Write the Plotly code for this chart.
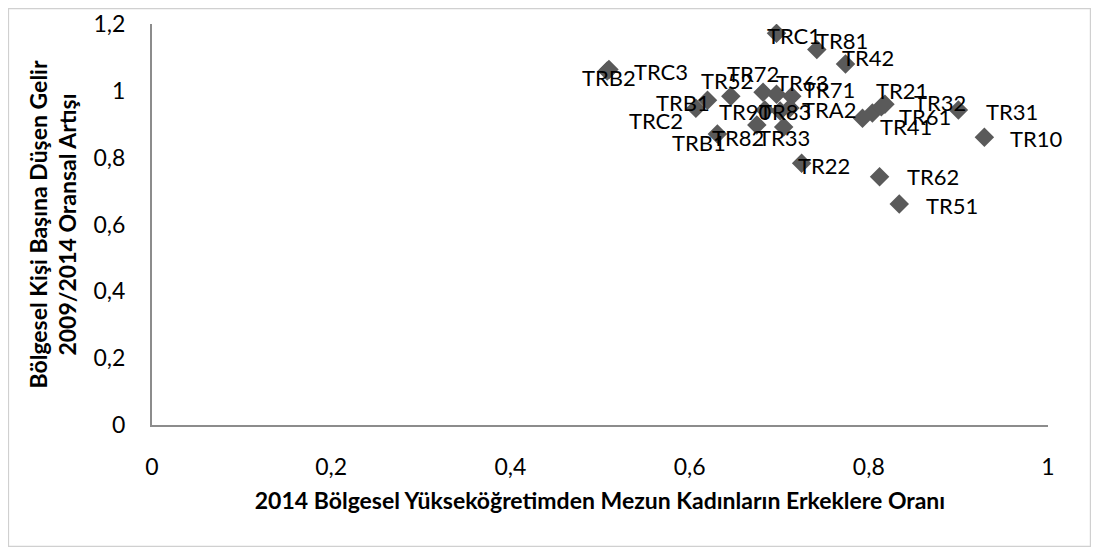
import plotly.graph_objects as go

# Data: region codes, x = 2014 female/male higher-education graduate ratio,
# y = 2009/2014 relative increase in regional per-capita income
regions = ["TRC1", "TR81", "TR42", "TRB2", "TRC3", "TRB1", "TR52", "TRC2", "TR72",
           "TR63", "TR71", "TR90", "TRA2", "TR83", "TR82", "TR33", "TRB1", "TR22",
           "TR41", "TR61", "TR21", "TR32", "TR31", "TR10", "TR62", "TR51"]
x_ratio = [0.697, 0.742, 0.774, 0.508, 0.510, 0.620, 0.646, 0.607, 0.682,
           0.697, 0.714, 0.684, 0.701, 0.712, 0.675, 0.705, 0.631, 0.725,
           0.793, 0.804, 0.814, 0.818, 0.900, 0.929, 0.812, 0.834]
y_increase = [1.172, 1.124, 1.080, 1.059, 1.064, 0.972, 0.984, 0.948, 0.996,
              0.990, 0.984, 0.943, 0.940, 0.949, 0.898, 0.892, 0.871, 0.783,
              0.918, 0.934, 0.952, 0.960, 0.943, 0.861, 0.743, 0.661]

# Label offsets in pixels (right, down) relative to each point
label_dx = [17, 25, 22, 1.5, 52.5, -24.5, -3.5, -39.5, -10.5,
            25, 37, -19, 49, -5, -19, 0, -18, 22,
            43, 53, 21, 55, 53.5, 52.5, 53, 53]
label_dy = [2, -9, -7, 6, 2, 2, -16, 12, -19,
            -12, -7, 2, -1, 4, 13, 11, 9, 2,
            8, 4, -16, -2, 2, 1, 0, 1]

FONT = "Lato"

fig = go.Figure()
fig.add_trace(go.Scatter(
    x=x_ratio, y=y_increase, mode="markers",
    marker=dict(symbol="diamond", size=15, color="#5a5a5a"),
    hoverinfo="text", text=regions, showlegend=False,
))

for name, xv, yv, dx, dy in zip(regions, x_ratio, y_increase, label_dx, label_dy):
    fig.add_annotation(x=xv, y=yv, text=name, showarrow=False,
                       xshift=dx, yshift=-dy,
                       font=dict(family=FONT, size=22, color="#000000"))

# Page body has an 8px margin, so the figure is sized to fit inside it
fig.update_layout(
    width=1083, height=539,
    margin=dict(l=144, r=43, t=16, b=122),
    paper_bgcolor="white", plot_bgcolor="white",
    separators=", ",
    font=dict(family=FONT, size=22, color="#000000"),
    xaxis=dict(
        range=[0, 1], tickvals=[0, 0.2, 0.4, 0.6, 0.8, 1], automargin=False,
        showgrid=False, zeroline=False, showline=True, linecolor="#8c8c8c", linewidth=2,
        ticks="outside", ticklen=20, tickcolor="rgba(0,0,0,0)",
        tickfont=dict(family=FONT, size=23),
        title=dict(text="<b>2014 Bölgesel Yükseköğretimden Mezun Kadınların Erkeklere Oranı</b>",
                   font=dict(family=FONT, size=23), standoff=14),
    ),
    yaxis=dict(
        range=[0, 1.2], tickvals=[0, 0.2, 0.4, 0.6, 0.8, 1, 1.2], automargin=False,
        showgrid=False, zeroline=False, showline=True, linecolor="#8c8c8c", linewidth=2,
        ticks="outside", ticklen=20, tickcolor="rgba(0,0,0,0)",
        tickfont=dict(family=FONT, size=23),
        title=dict(text="<b>Bölgesel Kişi Başına Düşen Gelir<br>2009/2014 Oransal Artışı</b>",
                   font=dict(family=FONT, size=23), standoff=10),
    ),
    shapes=[dict(type="rect", xref="paper", yref="paper",
                 x0=-0.1603, x1=1.0475, y0=-0.303, y1=1.0387,
                 line=dict(color="#d0d0d0", width=1.5), fillcolor="rgba(0,0,0,0)", layer="below")],
)

fig.write_html("out.html")
